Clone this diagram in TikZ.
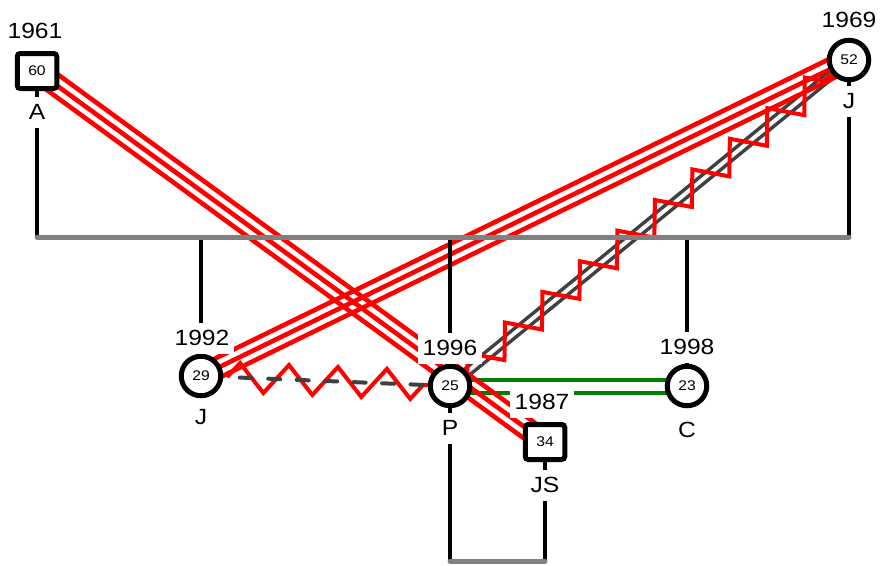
\documentclass[tikz,border=0pt]{standalone}
\usepackage{fontspec}
\setmainfont{Liberation Sans}[FakeStretch=1.12]
\usetikzlibrary{calc,decorations.pathmorphing}
\pgfdeclarelayer{bg}
\pgfsetlayers{bg,main}
\definecolor{relred}{RGB}{255,0,0}
\definecolor{relgreen}{RGB}{0,128,0}
\definecolor{darkline}{RGB}{64,64,64}
\definecolor{marrgray}{RGB}{128,128,128}
\newcommand{\lblfont}{\fontsize{22}{24}\selectfont}
\newcommand{\agefont}{\fontsize{14}{16}\selectfont}
\newcommand{\trirel}[2]{%
  \foreach \offs in {-9.5,0,9.5}{%
    \draw[relline] ($(#1)!\offs pt!90:(#2)$) -- ($(#2)!\offs pt!-90:(#1)$);}}
\begin{document}
\begin{tikzpicture}[x=1pt,y=-1pt,
  person/.style={draw=black, line width=5pt, fill=white, inner sep=0pt, font=\agefont, text=black},
  male/.style={person, rectangle, rounded corners=3pt, minimum width=39.5pt, minimum height=35pt},
  female/.style={person, circle, minimum size=39.5pt},
  tag/.style={fill=white, inner xsep=5pt, inner ysep=0pt, minimum height=31pt, font=\lblfont, text=black},
  relline/.style={draw=relred, line width=4.6pt},
  greenrel/.style={draw=relgreen, line width=4pt},
  darkrel/.style={draw=darkline, line width=3.4pt},
  zigrel/.style={draw=relred, line width=4pt, line join=miter},
  dashrel/.style={draw=darkline, line width=4pt, line cap=round, dash pattern=on 12pt off 16.5pt, dash phase=12pt},
  desc/.style={draw=black, line width=4.5pt},
  marr/.style={draw=marrgray, line width=5pt, line cap=round}
]
\useasboundingbox (0,0) rectangle (880,565);
% persons
\node[male]   (A)  at (37,71)   {60};
\node[female] (J2) at (849,60)  {52};
\node[female] (J1) at (201,376) {29};
\node[female] (P)  at (450,386) {25};
\node[female] (C)  at (687,386) {23};
\node[male]   (JS) at (545,442) {34};
% years
\node[tag] (yA)  at (35,31)   {1961};
\node[tag] (yJ2) at (849,20)  {1969};
\node[tag] (yJ1) at (202,338) {1992};
\node[tag] (yP)  at (450,348) {1996};
\node[tag] (yC)  at (687,347) {1998};
\node[tag] (yJS) at (542,402) {1987};
% names
\node[tag] (nA)  at (37,112)  {A};
\node[tag] (nJ2) at (849,101) {J};
\node[tag] (nJ1) at (201,417) {J};
\node[tag] (nP)  at (450,428) {P};
\node[tag] (nC)  at (687,430) {C};
\node[tag] (nJS) at (545,485) {JS};
% junction points
\coordinate (mL) at (37,237);
\coordinate (mR) at (849,237);
\coordinate (bL) at (450,561);
\coordinate (bR) at (545,561);
\begin{pgfonlayer}{bg}
  % P -- C
  \draw[greenrel] ($(P)!6.5pt!90:(C)$) -- ($(C)!6.5pt!-90:(P)$);
  \draw[greenrel] ($(P)!-6.5pt!90:(C)$) -- ($(C)!-6.5pt!-90:(P)$);
  % P -- J2
  \foreach \offs in {-3.8,3.8}{%
    \draw[darkrel] ($(P)!\offs pt!90:(J2)$) -- ($(J2)!\offs pt!-90:(P)$);}
  \draw[zigrel, decorate, decoration={zigzag, segment length=48.4pt, amplitude=14.4pt}] (P) -- (J2);
  % J1 -- P
  \draw[zigrel, decorate, decoration={zigzag, segment length=49pt, amplitude=14.5pt, pre=moveto, pre length=4pt}] (J1) -- (P);
  \draw[dashrel] (J1) -- (P);
  % conflicts
  \trirel{A}{JS}
  \trirel{J2}{J1}
  % family lines
  \draw[desc] (A) -- (mL);
  \draw[desc] (J2) -- (mR);
  \draw[desc] (J1) -- (J1 |- mL);
  \draw[desc] (P) -- (P |- mL);
  \draw[desc] (C) -- (C |- mL);
  \draw[desc] (P) -- (bL);
  \draw[desc] (JS) -- (bR);
  \draw[marr] (mL) -- (mR);
  \draw[marr] (bL) -- (bR);
\end{pgfonlayer}
\end{tikzpicture}
\end{document}
